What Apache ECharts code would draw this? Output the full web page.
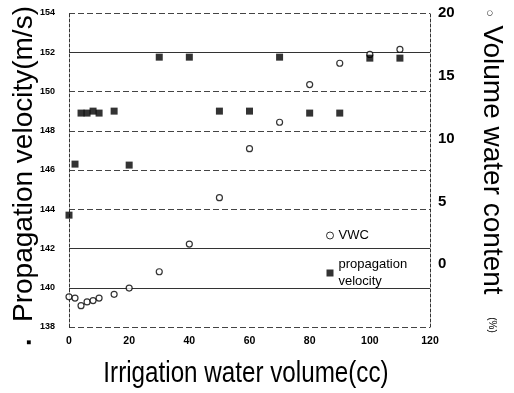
<!DOCTYPE html>
<html><head><meta charset="utf-8">
<script src="https://cdn.jsdelivr.net/npm/echarts@6/dist/echarts.min.js"></script>
<style>html,body{margin:0;padding:0;background:#fff}#c{width:514px;height:393px}</style>
</head><body><div id="c"></div>
<script>
// ---- data ----
const waterVolume = [0, 2, 4, 6, 8, 10, 15, 20, 30, 40, 50, 60, 70, 80, 90, 100, 110];
const velocity = [143.7, 146.3, 148.9, 148.9, 149.0, 148.9, 149.0, 146.25, 151.75, 151.75, 149.0, 149.0, 151.75, 148.9, 148.9, 151.7, 151.7];
const vwc = [-2.6, -2.7, -3.3, -3.0, -2.9, -2.7, -2.4, -1.9, -0.6, 1.6, 5.3, 9.2, 11.3, 14.3, 16.0, 16.7, 17.1];
const xTicks = [0, 20, 40, 60, 80, 100, 120];
const leftTicks = [138, 140, 142, 144, 146, 148, 150, 152, 154];
const rightTicks = [0, 5, 10, 15, 20];
const solidLevels = [152, 142, 140];

const NARROW = '"Liberation Sans Narrow", "Arial Narrow", "Liberation Sans", sans-serif';
const SANS = '"Liberation Sans", Arial, sans-serif';

const chart = echarts.init(document.getElementById('c'), null, {renderer: 'canvas'});
const option = {
  animation: false,
  backgroundColor: '#fff',
  grid: {left: 69, right: 84, top: 13, bottom: 66},
  xAxis: {
    type: 'value', min: xTicks[0], max: xTicks[xTicks.length - 1], interval: 20,
    axisLine: {show: false}, axisTick: {show: false}, splitLine: {show: false},
    axisLabel: {margin: 9, color: '#000', fontSize: 10.5, fontWeight: 'bold', fontFamily: NARROW}
  },
  yAxis: [{
    type: 'value', min: leftTicks[0], max: leftTicks[leftTicks.length - 1], interval: 2,
    axisLine: {show: true, lineStyle: {color: '#333', type: [3, 2], width: 1}},
    axisTick: {show: false},
    splitLine: {show: true, lineStyle: {color: '#444', type: [6, 3], width: 1}},
    axisLabel: {margin: 14, color: '#000', fontSize: 9, fontWeight: 'bold', fontFamily: NARROW}
  }, {
    type: 'value', min: -5, max: rightTicks[rightTicks.length - 1], interval: 5, position: 'right',
    axisLine: {show: true, lineStyle: {color: '#333', type: [3, 2], width: 1}},
    axisTick: {show: false}, splitLine: {show: false},
    axisLabel: {margin: 8, color: '#000', fontSize: 15, fontWeight: 'bold', fontFamily: NARROW,
      formatter: v => rightTicks.indexOf(v) >= 0 ? String(v) : ''}
  }],
  legend: {
    orient: 'vertical', left: 321, top: 222, itemGap: 12, itemWidth: 7, itemHeight: 7,
    itemStyle: {borderWidth: 1},
    textStyle: {fontSize: 13, lineHeight: 17, color: '#000', fontFamily: SANS},
    formatter: n => n.replace(' ', '\n'),
    data: [{name: 'VWC', icon: 'circle'}, {name: 'propagation velocity', icon: 'rect'}]
  },
  series: [{
    name: 'VWC', type: 'scatter', yAxisIndex: 1, symbol: 'circle', symbolSize: 6,
    itemStyle: {color: '#fff', borderColor: '#000', borderWidth: 1.2},
    data: waterVolume.map((x, i) => [x, vwc[i]]), z: 3
  }, {
    name: 'propagation velocity', type: 'scatter', yAxisIndex: 0, symbol: 'rect', symbolSize: 7,
    itemStyle: {color: '#000'}, clip: false,
    data: waterVolume.map((x, i) => [x, velocity[i]]), z: 4,
    markLine: {
      silent: true, symbol: 'none', label: {show: false}, z: 1,
      lineStyle: {type: 'solid', color: '#333', width: 1.2},
      data: solidLevels.map(v => ({yAxis: v}))
    }
  }],
  graphic: [
    {type: 'text', x: 24, y: 164, rotation: Math.PI / 2,
      style: {text: 'Propagation velocity(m/s)', fill: '#000', font: '28px ' + SANS, align: 'center', verticalAlign: 'middle'}},
    {type: 'text', x: 29, y: 342, rotation: Math.PI / 2,
      style: {text: '■', fill: '#000', font: '8px ' + SANS, align: 'center', verticalAlign: 'middle'}},
    {type: 'text', x: 492, y: 160, rotation: -Math.PI / 2,
      style: {text: 'Volume water content', fill: '#000', font: '28px ' + SANS, align: 'center', verticalAlign: 'middle'}},
    {type: 'text', x: 492, y: 325, rotation: -Math.PI / 2,
      style: {text: '(%)', fill: '#000', font: '10px ' + SANS, align: 'center', verticalAlign: 'middle'}},
    {type: 'text', x: 490, y: 13, rotation: -Math.PI / 2,
      style: {text: '○', fill: '#000', font: '7px "DejaVu Sans", sans-serif', align: 'center', verticalAlign: 'middle'}},
    {type: 'text', x: 246, y: 374, scaleX: 0.835,
      style: {text: 'Irrigation water volume(cc)', fill: '#000', font: '29px ' + SANS, align: 'center', verticalAlign: 'middle'}}
  ]
};
chart.setOption(option);
</script></body></html>
